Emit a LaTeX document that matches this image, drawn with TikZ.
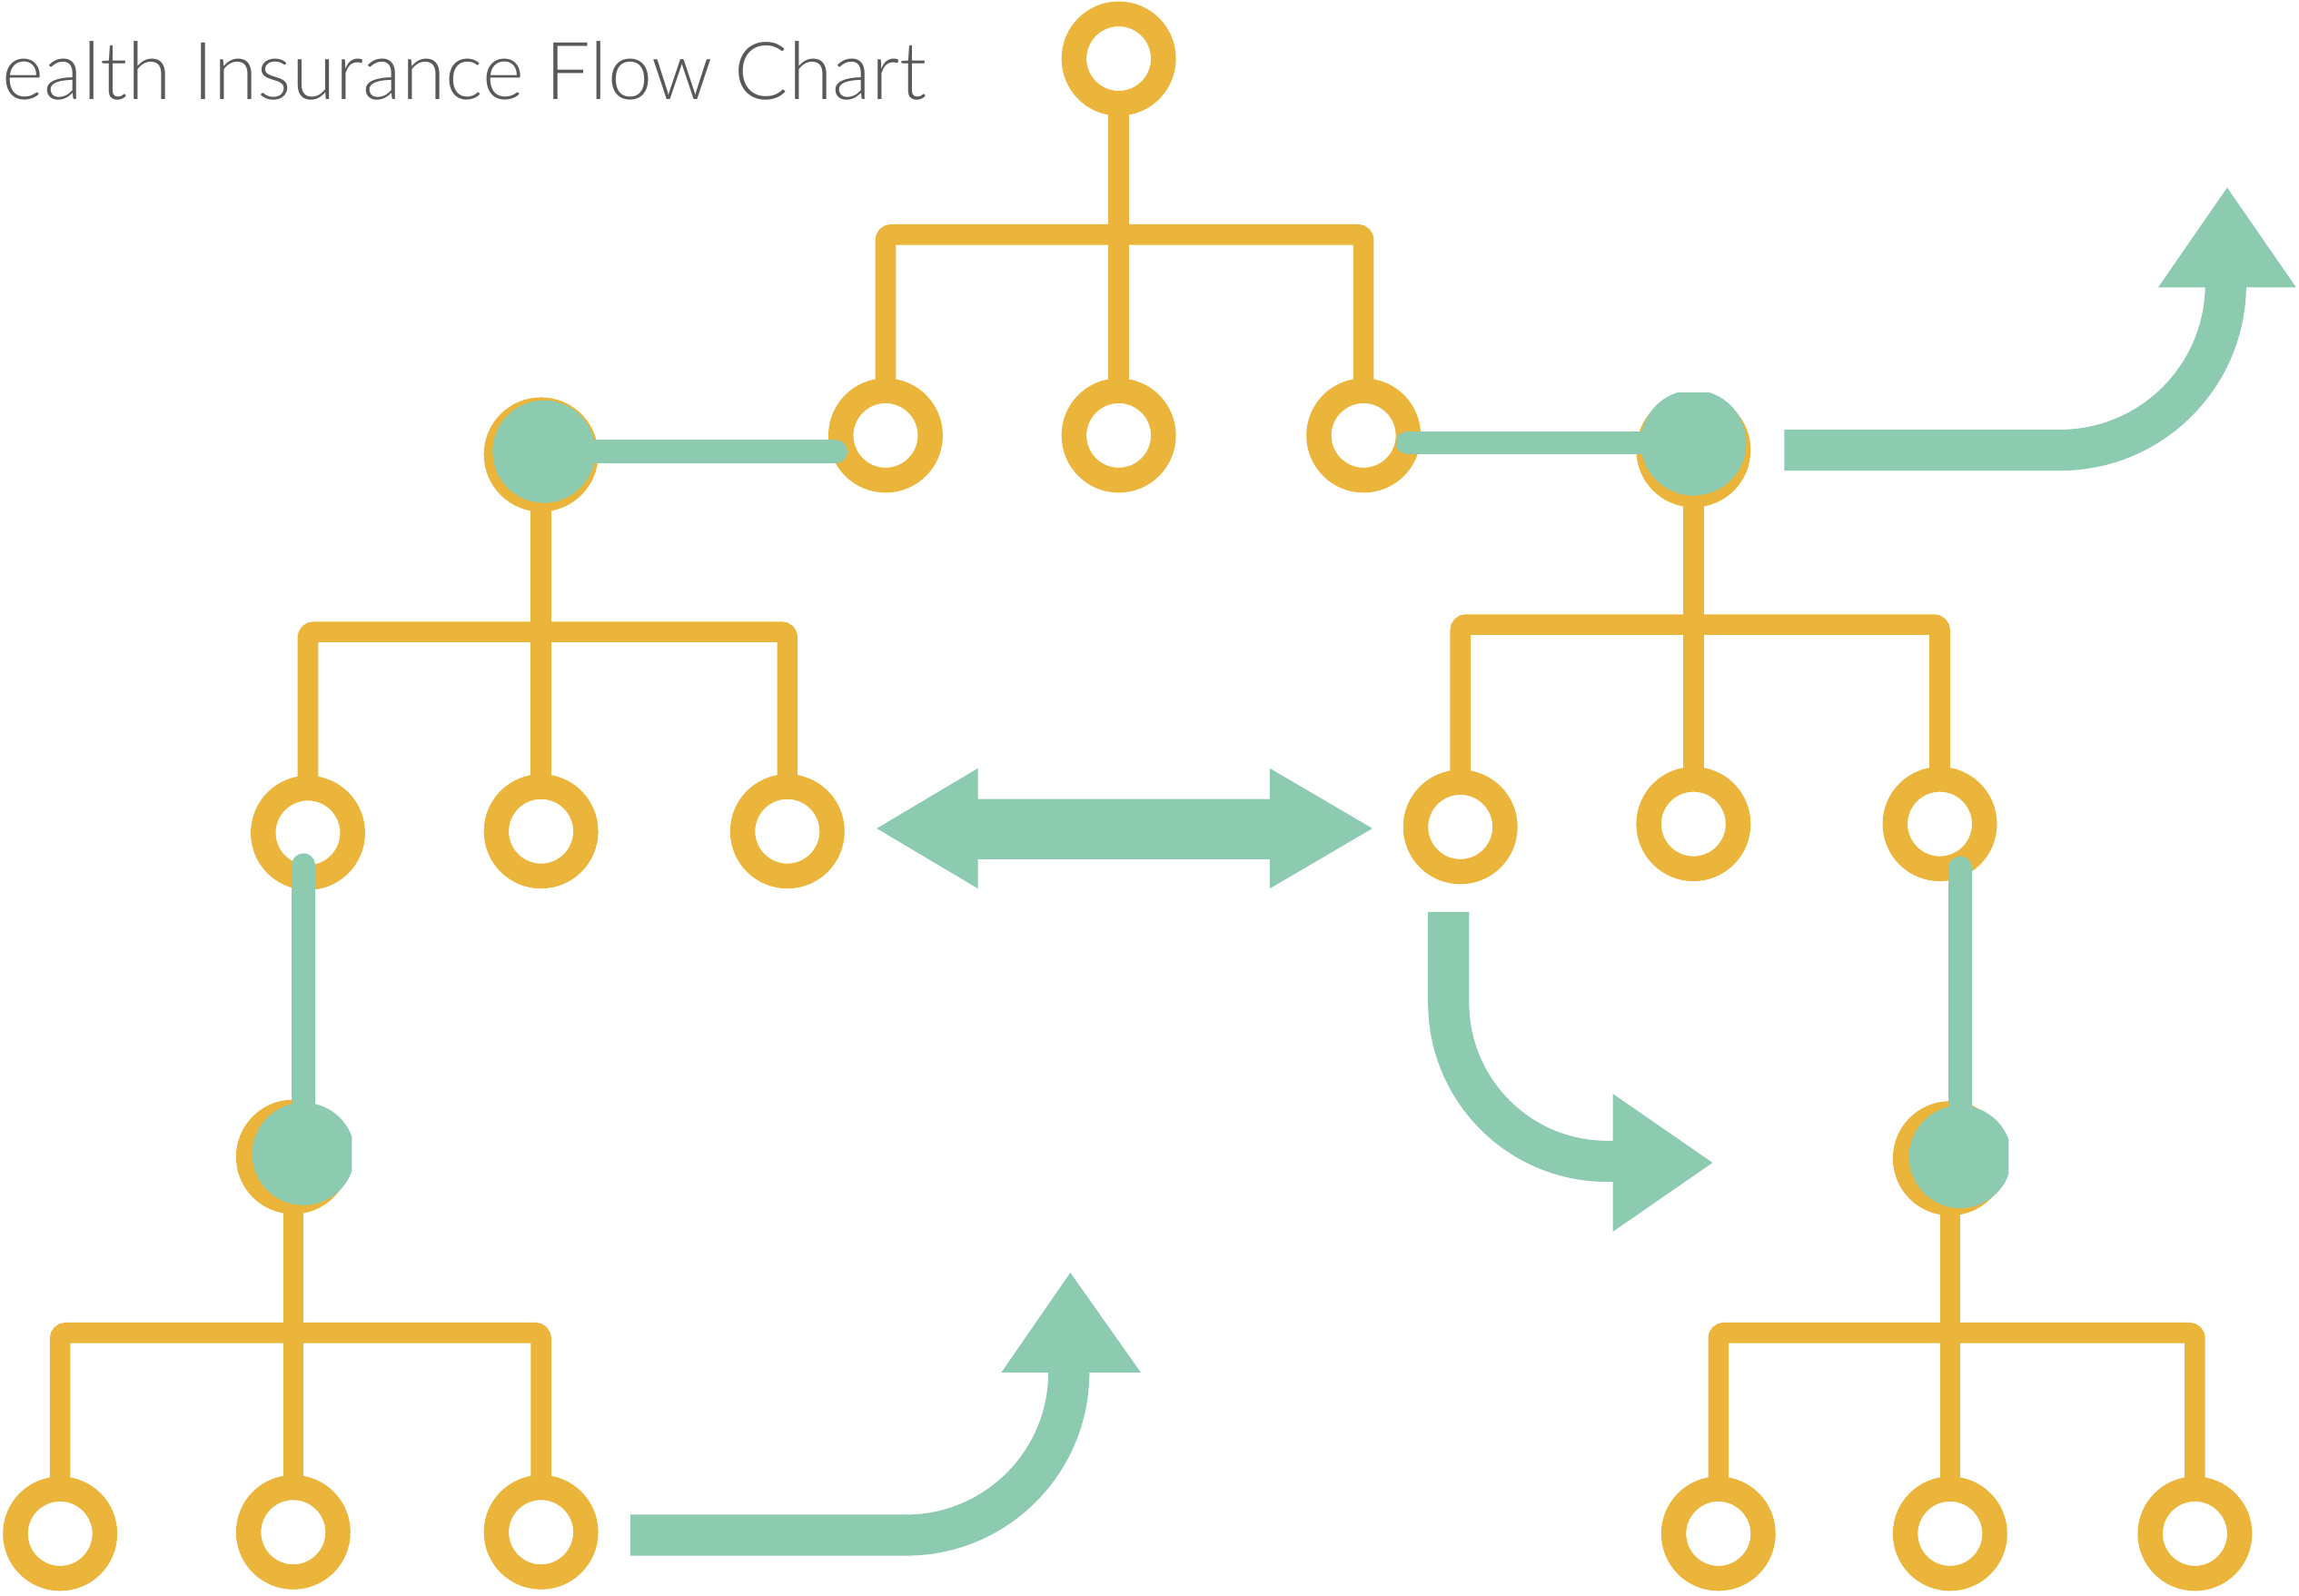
\documentclass[tikz,border=0pt]{standalone}
\usepackage{fontspec}
\usetikzlibrary{backgrounds}
\IfFontExistsTF{Lato Light}{\newfontfamily\titlefont{Lato Light}}{\newfontfamily\titlefont{Lato}}
\definecolor{gold}{HTML}{EBB43B}
\definecolor{mint}{HTML}{8CCBB0}
\definecolor{ink}{HTML}{595959}

\begin{document}
\begin{tikzpicture}[x=0.1mm, y=-0.1mm,
  ring/.style={circle, draw=gold, fill=white, line width=1.7mm, minimum size=6.1mm, inner sep=0pt},
  gdot/.style={circle, fill=mint, minimum size=7mm, inner sep=0pt},
  branch/.style={draw=gold, line width=1.4mm, rounded corners=0.4mm},
  link/.style={draw=mint, line width=1.6mm, line cap=round},
  bigshaft/.style={draw=mint, line width=2.8mm},
  bighead/.style={fill=mint}]
\useasboundingbox (0,0) rectangle (1568,1088);

% title
\node[anchor=base west, inner sep=0pt, text=ink,
      font=\titlefont\fontsize{15.5pt}{18pt}\selectfont] (title) at (1,68) {ealth Insurance Flow Chart};

% ---- tree 1 (top)
\node[ring] (t1r) at (763,40) {};
\node[ring] (t1a) at (604,297) {};
\node[ring] (t1b) at (763,297) {};
\node[ring] (t1c) at (930,297) {};
\coordinate (t1bar) at (763,160);

% ---- tree 2 (left)
\node[ring] (t2r) at (369,310) {};
\node[ring] (t2a) at (210,568) {};
\node[ring] (t2b) at (369,567) {};
\node[ring] (t2c) at (537,567) {};
\coordinate (t2bar) at (369,431);

% ---- tree 3 (bottom left)
\node[ring] (t3r) at (200,789) {};
\node[ring] (t3a) at (41,1046) {};
\node[ring] (t3b) at (200,1045) {};
\node[ring] (t3c) at (369,1045) {};
\coordinate (t3bar) at (200,909);

% ---- tree 4 (right)
\node[ring] (t4r) at (1155,307) {};
\node[ring] (t4a) at (996,564) {};
\node[ring] (t4b) at (1155,562) {};
\node[ring] (t4c) at (1323,562) {};
\coordinate (t4bar) at (1155,426);

% ---- tree 5 (bottom right)
\node[ring] (t5r) at (1330,790) {};
\node[ring] (t5a) at (1172,1046) {};
\node[ring] (t5b) at (1330,1046) {};
\node[ring] (t5c) at (1497,1046) {};
\coordinate (t5bar) at (1330,909);

% branches behind the rings
\begin{pgfonlayer}{background}
  \foreach \t in {t1,t2,t3,t4,t5} {
    \draw[branch] (\t r.center) -- (\t b.center);
    \draw[branch] (\t a.center) |- (\t bar -| \t c.center) -- (\t c.center);
  }
\end{pgfonlayer}

% highlighted roots
\node[gdot] (t2g) at (371,308) {};
\begin{scope}
  \clip (0,0) rectangle (240,1088);
  \node[gdot] (t3g) at (207,787) {};
\end{scope}
\begin{scope}
  \clip (0,268) rectangle (1568,1088);
  \node[gdot, minimum size=7.2mm] (t4g) at (1155,302) {};
\end{scope}
\begin{scope}
  \clip (0,0) rectangle (1370,1088);
  \node[gdot] (t5g) at (1337,789) {};
\end{scope}

% links between trees
\draw[link, shorten >=3.4mm] (t2g.center) -- (t2g.center -| t1a.center);
\draw[link, shorten <=3mm] (t1c.center |- t4g.center) -- (t4g.center);
\draw[link, shorten <=2.2mm] (t2a.center -| t3g.center) -- (t3g.center);
\draw[link, shorten <=3mm] (t4c.center -| t5g.center) -- (t5g.center);

% double arrow
\fill[bighead] (598,565) -- (667,524) -- (667,545) -- (866,545) -- (866,524)
  -- (936,565) -- (866,606) -- (866,586) -- (667,586) -- (667,606) -- cycle;

% turning arrow, top right
\draw[bigshaft] (1217,307) -- (1405,307) arc[start angle=90, end angle=0, radius=113] -- (1518,192);
\fill[bighead] (1472,196) -- (1519,128) -- (1566,196) -- cycle;

% turning arrow, bottom middle
\draw[bigshaft] (430,1047) -- (618,1047) arc[start angle=90, end angle=0, radius=111] -- (729,932);
\fill[bighead] (683,936) -- (730,868) -- (778,936) -- cycle;

% turning arrow, middle right
\draw[bigshaft] (988,622) -- (988,684) arc[start angle=180, end angle=90, radius=108] -- (1103,792);
\fill[bighead] (1100,746) -- (1168,793) -- (1100,840) -- cycle;
\end{tikzpicture}
\end{document}
